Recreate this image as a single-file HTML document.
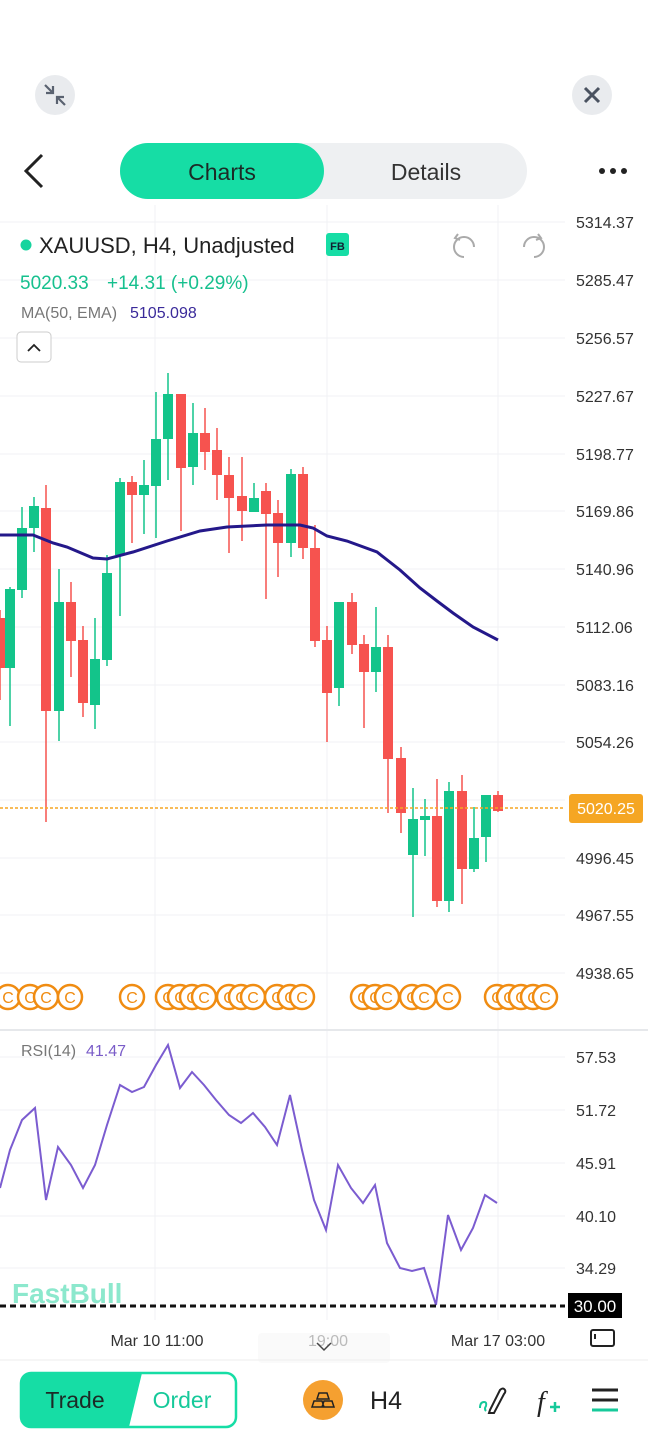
<!DOCTYPE html>
<html><head><meta charset="utf-8"><style>
body{margin:0;width:648px;height:1440px;background:#fff;font-family:"Liberation Sans",sans-serif;overflow:hidden;position:relative}
svg{position:absolute;left:0;top:0}
</style></head><body>
<svg width="648" height="1440" viewBox="0 0 648 1440" font-family="Liberation Sans, sans-serif">
<!-- top icons -->
<circle cx="55" cy="95" r="20" fill="#e9ebee"/>
<path d="M45 85 L53 93 M53 86 V93 H46 M65 105 L57 97 M57 104 V97 H64" stroke="#5a6270" stroke-width="2.2" fill="none"/>
<circle cx="592" cy="95" r="20" fill="#e9ebee"/>
<path d="M585 88 L599 102 M599 88 L585 102" stroke="#4a5260" stroke-width="3" fill="none"/>
<path d="M42 155 L26 171 L42 187" stroke="#222" stroke-width="3" fill="none"/>
<rect x="120" y="143" width="407" height="56" rx="28" fill="#eef0f2"/>
<rect x="120" y="143" width="204" height="56" rx="28" fill="#16dda5"/>
<text x="222" y="180" font-size="23" text-anchor="middle" fill="#1c2a26">Charts</text>
<text x="426" y="180" font-size="23" text-anchor="middle" fill="#333">Details</text>
<circle cx="602" cy="171" r="3" fill="#222"/><circle cx="613" cy="171" r="3" fill="#222"/><circle cx="624" cy="171" r="3" fill="#222"/>
<!-- grid -->
<g stroke="#f1f2f4" stroke-width="1">
<line x1="0" y1="222" x2="565" y2="222"/><line x1="0" y1="280" x2="565" y2="280"/><line x1="0" y1="338" x2="565" y2="338"/><line x1="0" y1="396" x2="565" y2="396"/><line x1="0" y1="454" x2="565" y2="454"/><line x1="0" y1="511" x2="565" y2="511"/><line x1="0" y1="569" x2="565" y2="569"/><line x1="0" y1="627" x2="565" y2="627"/><line x1="0" y1="685" x2="565" y2="685"/><line x1="0" y1="742" x2="565" y2="742"/><line x1="0" y1="800" x2="565" y2="800"/><line x1="0" y1="858" x2="565" y2="858"/><line x1="0" y1="915" x2="565" y2="915"/><line x1="0" y1="973" x2="565" y2="973"/>
<line x1="0" y1="1057" x2="565" y2="1057"/><line x1="0" y1="1110" x2="565" y2="1110"/><line x1="0" y1="1163" x2="565" y2="1163"/><line x1="0" y1="1216" x2="565" y2="1216"/><line x1="0" y1="1268" x2="565" y2="1268"/>
<line x1="155" y1="205" x2="155" y2="1320"/><line x1="327" y1="205" x2="327" y2="1320"/><line x1="498" y1="205" x2="498" y2="1320"/>
</g>
<line x1="0" y1="1030" x2="648" y2="1030" stroke="#e6e8eb" stroke-width="2"/>
<!-- axis labels -->
<g font-size="16" fill="#333">
<text x="576" y="228">5314.37</text><text x="576" y="286">5285.47</text><text x="576" y="344">5256.57</text><text x="576" y="402">5227.67</text><text x="576" y="460">5198.77</text><text x="576" y="517">5169.86</text><text x="576" y="575">5140.96</text><text x="576" y="633">5112.06</text><text x="576" y="691">5083.16</text><text x="576" y="748">5054.26</text><text x="576" y="864">4996.45</text><text x="576" y="921">4967.55</text><text x="576" y="979">4938.65</text>
<text x="576" y="1063">57.53</text><text x="576" y="1116">51.72</text><text x="576" y="1169">45.91</text><text x="576" y="1222">40.10</text><text x="576" y="1274">34.29</text>
</g>
<!-- header text -->
<circle cx="26" cy="245" r="5.5" fill="#16d49e"/>
<text x="39" y="253" font-size="22" fill="#222">XAUUSD, H4, Unadjusted</text>
<rect x="326" y="233" width="23" height="23" rx="3" fill="#16dda5"/>
<text x="337.5" y="250" font-size="11" font-weight="bold" text-anchor="middle" fill="#123">FB</text>
<path d="M474 247 A10 10 0 1 0 464 257 M458 234 L455 238 L460 240" stroke="#aaa" stroke-width="2" fill="none"/>
<path d="M524 247 A10 10 0 1 1 534 257 M538 234 L541 238 L536 240" stroke="#aaa" stroke-width="2" fill="none"/>
<text x="20" y="289" font-size="19" fill="#16c08e">5020.33</text>
<text x="107" y="289" font-size="19" fill="#16c08e">+14.31 (+0.29%)</text>
<text x="21" y="318" font-size="16" fill="#777">MA(50, EMA)</text>
<text x="130" y="318" font-size="16" fill="#3a2a9a">5105.098</text>
<rect x="17" y="332" width="34" height="30" rx="4" fill="#fff" stroke="#ccc"/>
<path d="M28 351 L34 345 L40 351" stroke="#222" stroke-width="1.8" fill="none"/>
<!-- candles -->
<g stroke-width="1.5" id="c"></g>
<!-- MA -->
<polyline points="0,535 33,535 53,543 67,547 93,558 107,559 133,552 167,541 200,531 227,527 267,525 300,525 313,528 327,536 347,541 377,552 400,570 420,588 437,601 453,613 473,627 498,640" fill="none" stroke="#24188a" stroke-width="3"/>
<line x1="0" y1="808" x2="565" y2="808" stroke="#f5a623" stroke-width="1.5" stroke-dasharray="3,2"/>
<rect x="569" y="794" width="74" height="29" rx="3" fill="#f5a623"/>
<text x="606" y="814" font-size="16" fill="#fff" text-anchor="middle">5020.25</text>
<!-- coins -->
<g fill="#fff" stroke="#f08c12" stroke-width="2.5" id="coins"></g>
<!-- RSI -->
<text x="21" y="1056" font-size="16" fill="#777">RSI(14)</text>
<text x="86" y="1056" font-size="16" fill="#7a5cc8">41.47</text>
<polyline points="0,1188 10,1150 22,1120 35,1108 46,1200 58,1147 71,1165 83,1188 95,1165 107,1125 120,1085 132,1092 144,1087 156,1065 168,1045 180,1088 192,1072 204,1085 216,1100 229,1115 241,1123 253,1113 265,1127 277,1145 290,1095 302,1150 314,1200 326,1230 338,1165 351,1188 363,1203 375,1185 387,1243 400,1268 412,1271 424,1268 436,1305 448,1215 461,1250 473,1228 485,1195 497,1203" fill="none" stroke="#7b5cd0" stroke-width="2"/>
<text x="12" y="1303" font-size="28" font-weight="bold" fill="#8ce8cd">FastBull</text>
<line x1="0" y1="1306" x2="565" y2="1306" stroke="#111" stroke-width="3" stroke-dasharray="6,4"/>
<rect x="568" y="1293" width="54" height="25" fill="#000"/>
<text x="595" y="1312" font-size="17" fill="#fff" text-anchor="middle">30.00</text>
<!-- time axis -->
<rect x="258" y="1333" width="132" height="30" rx="4" fill="#fafafa"/>
<text x="157" y="1346" font-size="16" fill="#333" text-anchor="middle">Mar 10 11:00</text>
<text x="328" y="1346" font-size="16" fill="#bbb" text-anchor="middle">19:00</text>
<path d="M317 1343 L324 1350 L331 1343" stroke="#444" stroke-width="1.5" fill="none"/>
<text x="498" y="1346" font-size="16" fill="#333" text-anchor="middle">Mar 17 03:00</text>
<rect x="591" y="1330" width="23" height="16" rx="2" fill="none" stroke="#222" stroke-width="2"/>
<line x1="595" y1="1334" x2="595" y2="1339" stroke="#222" stroke-width="2"/>
<line x1="0" y1="1360" x2="648" y2="1360" stroke="#eee"/>
<!-- bottom bar -->
<rect x="21" y="1373" width="215" height="54" rx="10" fill="#fff" stroke="#16dda5" stroke-width="2.5"/>
<path d="M31 1373 H142 L129 1427 H31 A10 10 0 0 1 21 1417 V1383 A10 10 0 0 1 31 1373Z" fill="#16dda5"/>
<text x="75" y="1408" font-size="23" fill="#1c2a26" text-anchor="middle">Trade</text>
<text x="182" y="1408" font-size="23" fill="#16c99a" text-anchor="middle">Order</text>
<circle cx="323" cy="1400" r="20" fill="#f5a030"/>
<path d="M319 1393 h8 l2 6 h-12z M314 1401 h8 l2 6 h-12z M324 1401 h8 l2 6 h-12z" fill="none" stroke="#222" stroke-width="1.5"/>
<text x="386" y="1409" font-size="25" fill="#222" text-anchor="middle">H4</text>
<path d="M480 1408 q0 -6 4 -6 q3 0 2 4 q-2 3 0 5" stroke="#16c99a" stroke-width="2" fill="none"/>
<path d="M490 1410 L500 1390 q3 -3 5 0 q1 2 -1 4 L494 1413 L489 1413 Z" stroke="#222" stroke-width="2" fill="none"/>
<text x="537" y="1411" font-size="28" font-style="italic" font-family="Liberation Serif, serif" fill="#222">f</text>
<path d="M550 1407 h10 M555 1402 v10" stroke="#16c99a" stroke-width="2.5"/>
<path d="M592 1390 h26 M592 1400 h26" stroke="#222" stroke-width="3"/>
<path d="M592 1410 h26" stroke="#16c99a" stroke-width="3"/>
</svg>
<script>
var C=[[0,0,618,668,610,700],[10,1,589,668,587,726],[22,1,528,590,507,598],[34,1,506,528,497,552],[46,0,508,711,485,822],[59,1,602,711,569,741],[71,0,602,641,582,677],[83,0,640,703,626,717],[95,1,659,705,618,729],[107,1,573,660,555,666],[120,1,482,555,478,616],[132,0,482,495,476,543],[144,1,485,495,460,534],[156,1,439,486,392,538],[168,1,394,439,373,480],[181,0,394,468,394,531],[193,1,433,467,403,485],[205,0,433,452,408,470],[217,0,450,475,428,500],[229,0,475,498,457,553],[242,0,496,511,457,541],[254,1,498,512,483,512],[266,0,491,514,483,599],[278,0,513,543,500,577],[291,1,474,543,469,557],[303,0,474,548,467,559],[315,0,548,641,525,647],[327,0,640,693,626,742],[339,1,602,688,602,706],[352,0,602,645,593,654],[364,0,644,672,635,728],[376,1,647,672,607,692],[388,0,647,759,635,813],[401,0,758,813,747,833],[413,1,819,855,788,917],[425,1,816,820,799,856],[437,0,816,901,779,907],[449,1,791,901,782,912],[462,0,791,869,775,904],[474,1,838,869,807,872],[486,1,795,837,795,862],[498,0,795,811,791,812]];
var ns="http://www.w3.org/2000/svg",g=document.getElementById("c");
C.forEach(function(c){var col=c[1]?"#13c48a":"#f6534f";
var l=document.createElementNS(ns,"line");l.setAttribute("x1",c[0]);l.setAttribute("x2",c[0]);l.setAttribute("y1",c[4]);l.setAttribute("y2",c[5]);l.setAttribute("stroke",col);g.appendChild(l);
var r=document.createElementNS(ns,"rect");r.setAttribute("x",c[0]-5);r.setAttribute("width",10);r.setAttribute("y",c[2]);r.setAttribute("height",Math.max(2,c[3]-c[2]));r.setAttribute("fill",col);g.appendChild(r);});
var cg=document.getElementById("coins");
[8,30,46,70,132,168,180,192,204,229,241,253,277,290,302,363,375,387,412,424,448,497,509,521,533,545].forEach(function(x){
var ci=document.createElementNS(ns,"circle");ci.setAttribute("cx",x);ci.setAttribute("cy",997);ci.setAttribute("r",12);cg.appendChild(ci);
var t=document.createElementNS(ns,"text");t.setAttribute("x",x);t.setAttribute("y",1003);t.setAttribute("text-anchor","middle");t.setAttribute("font-size","16");t.setAttribute("fill","#f08c12");t.setAttribute("stroke","none");t.textContent="C";cg.appendChild(t);});
</script>
</body></html>
